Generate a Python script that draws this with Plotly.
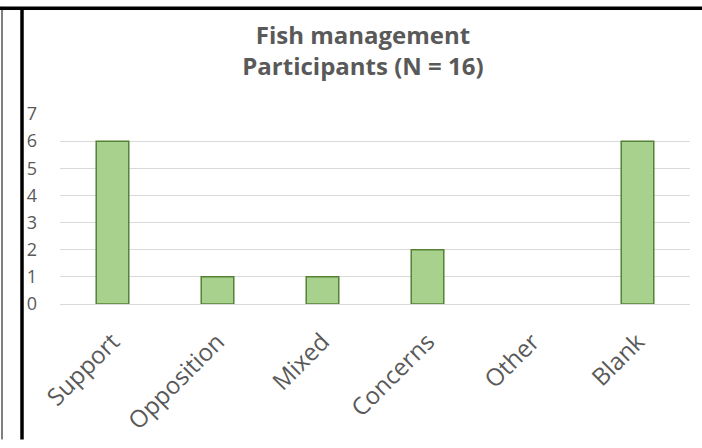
import plotly.graph_objects as go

categories = ['Support', 'Opposition', 'Mixed', 'Concerns', 'Other', 'Blank']
counts = [6, 1, 1, 2, 0, 6]
y_ticks = [0, 1, 2, 3, 4, 5, 6, 7]

W, H = 702, 448
L, R, T, B = 60, 12, 114, 139
pw, ph = W - L - R, H - T - B


def px_x(v):
    return (v - L) / pw


def px_y(v):
    return (H - B - v) / ph


fig = go.Figure()

# no outline on empty bars
outline = [0 if c == 0 else 1.5 for c in counts]

fig.add_trace(go.Bar(
    x=categories,
    y=counts,
    marker=dict(color='#A9D18E', line=dict(color='#548235', width=outline)),
    showlegend=False
))

# black frame lines on top / left
frame = [
    dict(x0=px_x(0), x1=px_x(W), y0=px_y(5.5), y1=px_y(5.5), w=3.5),
    dict(x0=px_x(2), x1=px_x(2), y0=px_y(4), y1=px_y(H), w=1),
    dict(x0=px_x(22), x1=px_x(22), y0=px_y(5), y1=px_y(H), w=3.5),
]
for f in frame:
    fig.add_shape(type='line', xref='paper', yref='paper',
                  x0=f['x0'], x1=f['x1'], y0=f['y0'], y1=f['y1'],
                  line=dict(color='black', width=f['w']))

fig.update_layout(
    width=W, height=H,
    margin=dict(l=L, r=R, t=T, b=B),
    paper_bgcolor='white',
    plot_bgcolor='white',
    bargap=0.69,
    title=dict(
        text='<b>Fish management<br>Participants (N = 16)</b>',
        x=0.517, xanchor='center',
        y=1 - 44 / H, yanchor='top',
        font=dict(family='Open Sans', size=24, color='#595959')
    ),
    font=dict(family='Open Sans', color='#595959'),
)

fig.update_yaxes(
    range=[0, 7],
    tickvals=y_ticks,
    gridcolor='#D9D9D9', gridwidth=1,
    zeroline=True, zerolinecolor='#D9D9D9', zerolinewidth=1,
    showline=False,
    ticklabelstandoff=22,
    tickfont=dict(size=18, color='#595959')
)

fig.update_xaxes(
    tickangle=-45,
    showgrid=False,
    showline=False,
    ticklabelstandoff=18,
    tickfont=dict(size=24, color='#595959')
)

# pin the chart to the top-left corner of the page
js = ("document.body.style.margin='0';"
      "var d = document.getElementById('{plot_id}');"
      "d.style.position='fixed'; d.style.top='0'; d.style.left='0';")

fig.write_html("out.html", config={'displayModeBar': False}, post_script=js)
